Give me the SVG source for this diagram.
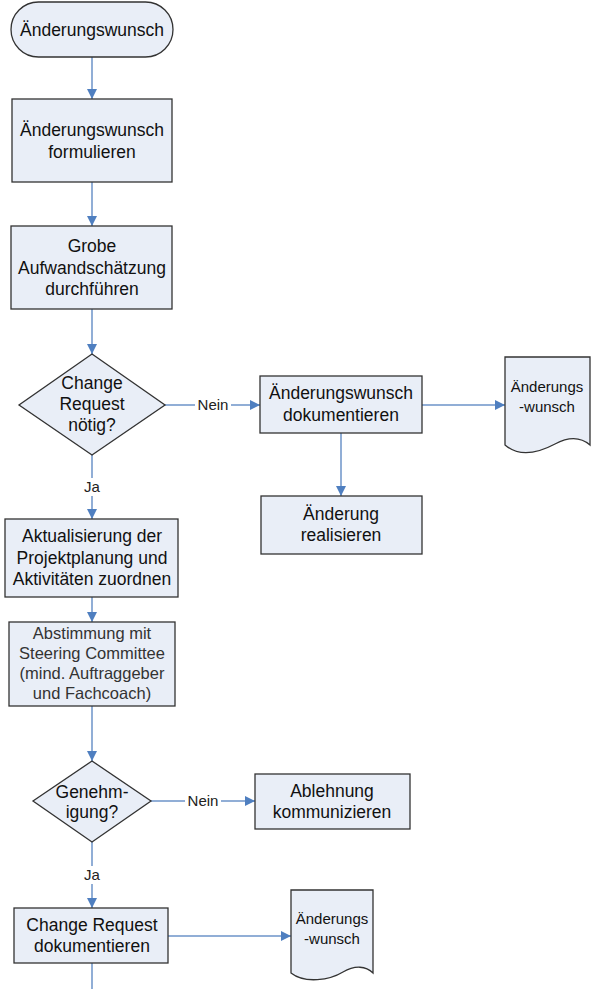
<svg xmlns="http://www.w3.org/2000/svg" width="595" height="989" viewBox="0 0 595 989">
<defs>
<marker id="ah" viewBox="0 0 10 10" refX="10" refY="5" markerWidth="10" markerHeight="10" markerUnits="userSpaceOnUse" orient="auto">
<path d="M0,0 L10,5 L0,10 Z" fill="#4F7FC0"/>
</marker>
<style>
.n{fill:#E9EEF7;stroke:#333;stroke-width:1.3}
.t{font-family:"Liberation Sans",Arial,sans-serif;font-size:17.5px;fill:#111;text-anchor:middle}
.s{font-family:"Liberation Sans",Arial,sans-serif;font-size:16.5px;fill:#333;text-anchor:middle}
.d{font-family:"Liberation Sans",Arial,sans-serif;font-size:15px;fill:#111;text-anchor:middle}
.l{font-family:"Liberation Sans",Arial,sans-serif;font-size:15px;fill:#222;text-anchor:middle}
.c{fill:none;stroke:#6C93C8;stroke-width:1.5}
.a{marker-end:url(#ah)}
</style>
</defs>
<rect width="595" height="989" fill="#fff"/>
<g id="connectors">
<line class="c a" x1="92" y1="57" x2="92" y2="99"/>
<line class="c a" x1="92" y1="182" x2="92" y2="226"/>
<line class="c a" x1="92" y1="309" x2="92" y2="354"/>
<line class="c a" x1="165" y1="405" x2="260" y2="405"/>
<line class="c a" x1="422" y1="405" x2="505" y2="405"/>
<line class="c a" x1="341" y1="433" x2="341" y2="496"/>
<line class="c a" x1="92" y1="455" x2="92" y2="519"/>
<line class="c a" x1="92" y1="597" x2="92" y2="622"/>
<line class="c a" x1="92" y1="706" x2="92" y2="761"/>
<line class="c a" x1="151" y1="801" x2="255" y2="801"/>
<line class="c a" x1="92" y1="842" x2="92" y2="908"/>
<line class="c a" x1="168" y1="936" x2="291" y2="936"/>
<line class="c" x1="92" y1="963" x2="92" y2="989"/>
<rect x="195" y="396" width="36" height="18" fill="#fff"/>
<text class="l" x="213" y="410">Nein</text>
<rect x="80" y="478" width="24" height="18" fill="#fff"/>
<text class="l" x="92" y="492">Ja</text>
<rect x="185" y="792" width="36" height="18" fill="#fff"/>
<text class="l" x="203" y="806">Nein</text>
<rect x="80" y="866" width="24" height="18" fill="#fff"/>
<text class="l" x="92" y="880">Ja</text>
</g>
<g id="start">
<rect class="n" x="11" y="2" width="162" height="55" rx="27.5"/>
<text class="t" x="92" y="36">Änderungswunsch</text>
</g>
<g id="formulieren">
<rect class="n" x="12" y="99" width="160" height="83"/>
<text class="t" x="92" y="136">Änderungswunsch</text>
<text class="t" x="92" y="158">formulieren</text>
</g>
<g id="aufwand">
<rect class="n" x="11" y="226" width="161" height="83"/>
<text class="t" x="92" y="252">Grobe</text>
<text class="t" x="92" y="274">Aufwandschätzung</text>
<text class="t" x="92" y="295">durchführen</text>
</g>
<g id="cr_noetig">
<polygon class="n" points="92,354 165,405 92,455 19,405"/>
<text class="t" x="92" y="389">Change</text>
<text class="t" x="92" y="410">Request</text>
<text class="t" x="92" y="431">nötig?</text>
</g>
<g id="wunsch_dok">
<rect class="n" x="260" y="376" width="162" height="57"/>
<text class="t" x="341" y="399">Änderungswunsch</text>
<text class="t" x="341" y="421">dokumentieren</text>
</g>
<g id="doc1">
<path class="n" d="M505,357 H590 V445 C582,438 570,436 555,444 C540,452 520,458 505,445 Z"/>
<text class="d" x="547" y="392">Änderungs</text>
<text class="d" x="547" y="412">-wunsch</text>
</g>
<g id="realisieren">
<rect class="n" x="261" y="496" width="161" height="58"/>
<text class="t" x="341" y="520">Änderung</text>
<text class="t" x="341" y="541">realisieren</text>
</g>
<g id="aktualisierung">
<rect class="n" x="5" y="519" width="173" height="78"/>
<text class="t" x="92" y="542">Aktualisierung der</text>
<text class="t" x="92" y="564">Projektplanung und</text>
<text class="t" x="92" y="585">Aktivitäten zuordnen</text>
</g>
<g id="abstimmung">
<rect class="n" x="9" y="622" width="166" height="84"/>
<text class="s" x="92" y="639">Abstimmung mit</text>
<text class="s" x="92" y="659">Steering Committee</text>
<text class="s" x="92" y="679">(mind. Auftraggeber</text>
<text class="s" x="92" y="699">und Fachcoach)</text>
</g>
<g id="genehmigung">
<polygon class="n" points="92,761 151,801 92,842 33,801"/>
<text class="t" x="92" y="798">Genehm-</text>
<text class="t" x="92" y="818">igung?</text>
</g>
<g id="ablehnung">
<rect class="n" x="255" y="774" width="155" height="55"/>
<text class="t" x="332" y="797">Ablehnung</text>
<text class="t" x="332" y="818">kommunizieren</text>
</g>
<g id="cr_dok">
<rect class="n" x="14" y="908" width="154" height="55"/>
<text class="t" x="92" y="931">Change Request</text>
<text class="t" x="92" y="952">dokumentieren</text>
</g>
<g id="doc2">
<path class="n" d="M291,890 H373 V973 C366,966 355,965 343,972 C330,980 305,984 291,973 Z"/>
<text class="d" x="332" y="924">Änderungs</text>
<text class="d" x="332" y="944">-wunsch</text>
</g>
</svg>
